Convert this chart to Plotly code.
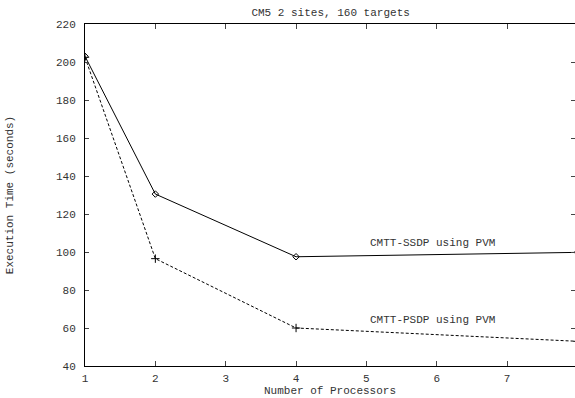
import plotly.graph_objects as go

# Execution time vs. number of processors on the CM5 (2 sites, 160 targets)
processors = [1, 2, 4, 8]
ssdp_times = [203, 130.5, 97.5, 99.8]
psdp_times = [202.5, 96.5, 60, 53]

ssdp_label = "CMTT-SSDP using PVM"
psdp_label = "CMTT-PSDP using PVM"

x_ticks = [1, 2, 3, 4, 5, 6, 7]
y_ticks = [40, 60, 80, 100, 120, 140, 160, 180, 200, 220]

FONT = "Liberation Mono, Courier New, monospace"
TEXT = "#333333"

fig = go.Figure()
fig.add_trace(go.Scatter(
    x=processors, y=ssdp_times, mode="lines+markers", name=ssdp_label,
    line=dict(color="black", width=1),
    marker=dict(symbol="diamond-open", size=5, color="black", line=dict(width=1)),
))
fig.add_trace(go.Scatter(
    x=processors, y=psdp_times, mode="lines+markers", name=psdp_label,
    line=dict(color="black", width=1, dash="3px,2px"),
    marker=dict(symbol="cross-thin", size=6, color="black", line=dict(width=1, color="black")),
))

fig.add_annotation(x=5.94, y=104.5, text=ssdp_label, showarrow=False,
                   font=dict(family=FONT, size=11, color=TEXT))
fig.add_annotation(x=5.94, y=64, text=psdp_label, showarrow=False,
                   font=dict(family=FONT, size=11, color=TEXT))

fig.update_layout(
    width=575, height=398,
    margin=dict(l=85, r=0, t=24, b=32),
    paper_bgcolor="white", plot_bgcolor="white",
    showlegend=False,
    font=dict(family=FONT, size=11, color=TEXT),
    title=dict(text="CM5 2 sites, 160 targets", x=0.575, xanchor="center",
               y=0.97, yanchor="middle", font=dict(family=FONT, size=11, color=TEXT)),
    xaxis=dict(
        range=[1, 7.965], tickvals=x_ticks, ticks="inside", ticklen=5,
        showline=True, linecolor="black", linewidth=1, mirror="all",
        showgrid=False, zeroline=False, ticklabelstandoff=2,
        title=dict(text="Number of Processors", standoff=2, font=dict(size=11)),
    ),
    yaxis=dict(
        range=[40, 220], tickvals=y_ticks, ticks="inside", ticklen=4,
        showline=True, linecolor="black", linewidth=1, mirror="ticks",
        showgrid=False, zeroline=False, ticklabelstandoff=6,
        title=dict(text="Execution Time (seconds)", standoff=40, font=dict(size=11)),
    ),
)

fig.write_html("out.html")
